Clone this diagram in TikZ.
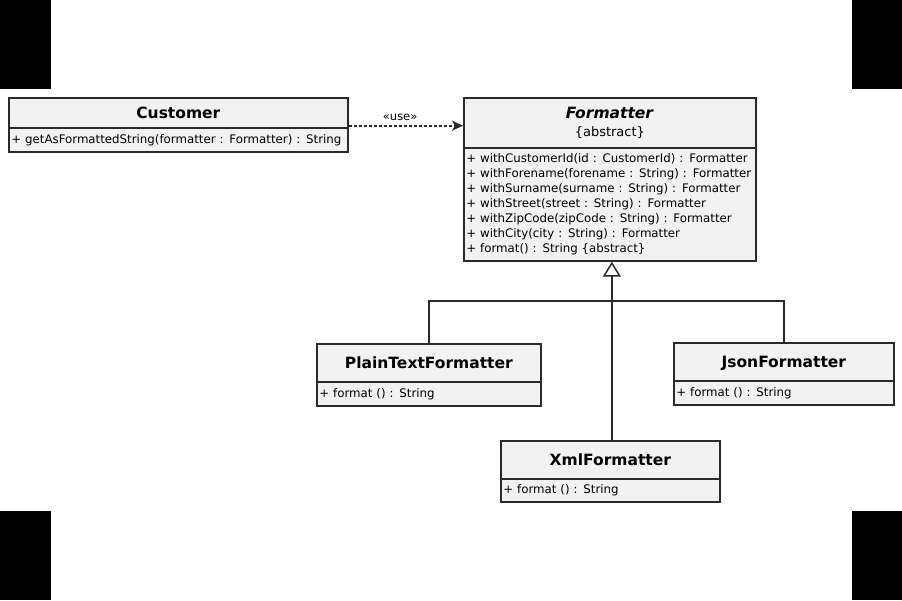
\documentclass[tikz,border=0pt]{standalone}
\usepackage{fontspec}
\setmainfont{DejaVu Sans}
\usetikzlibrary{arrows.meta,calc}
\definecolor{boxfill}{HTML}{F2F2F2}
\definecolor{linec}{HTML}{2A2A2A}
\tikzset{
  hdr/.style={draw=linec,line width=1.7pt,fill=boxfill,anchor=north west,inner sep=0pt,align=center,font=\fontsize{15.5}{18}\selectfont\bfseries},
  ttl/.style={text height=14pt,text depth=2pt},
  bdy/.style={draw=linec,line width=1.7pt,fill=boxfill,anchor=north west,inner sep=2.5pt,align=left,font=\fontsize{11.8}{15}\selectfont},
  conn/.style={draw=linec,line width=1.8pt},
}
\begin{document}
\begin{tikzpicture}[x=1pt,y=-1pt]
\useasboundingbox (0,0) rectangle (902,600);
\fill[black] (0,0) rectangle (51,89);
\fill[black] (852,0) rectangle (902,89);
\fill[black] (0,511) rectangle (51,600);
\fill[black] (852,511) rectangle (902,600);
% Customer
\node[hdr,ttl,minimum width=339pt,minimum height=30pt] (custH) at (8,97) {Customer};
\node[bdy,minimum width=339pt,minimum height=24pt,text width=334pt] (custB) at (8,127) {+ getAsFormattedString(formatter : Formatter) : String};
% Formatter
\node[hdr,minimum width=292pt,minimum height=50pt,font=\fontsize{15.5}{19}\selectfont] (fmtH) at (463,97) {\textbf{\itshape Formatter}\\[-1pt]{\fontsize{13}{15}\selectfont\{abstract\}}};
\node[bdy,minimum width=292pt,minimum height=113pt,text width=287pt] (fmtB) at (463,147) {+ withCustomerId(id : CustomerId) : Formatter\\
+ withForename(forename : String) : Formatter\\
+ withSurname(surname : String) : Formatter\\
+ withStreet(street : String) : Formatter\\
+ withZipCode(zipCode : String) : Formatter\\
+ withCity(city : String) : Formatter\\
+ format() : String \{abstract\}};
% PlainTextFormatter
\node[hdr,ttl,minimum width=224pt,minimum height=38pt] (plainH) at (316,343) {PlainTextFormatter};
\node[bdy,minimum width=224pt,minimum height=24pt,text width=219pt] (plainB) at (316,381) {+ format () : String};
% JsonFormatter
\node[hdr,ttl,minimum width=220pt,minimum height=38pt] (jsonH) at (673,342) {JsonFormatter};
\node[bdy,minimum width=220pt,minimum height=24pt,text width=215pt] (jsonB) at (673,380) {+ format () : String};
% XmlFormatter
\node[hdr,ttl,minimum width=219pt,minimum height=38pt] (xmlH) at (500,440) {XmlFormatter};
\node[bdy,minimum width=219pt,minimum height=23pt,text width=214pt] (xmlB) at (500,478) {+ format () : String};
% use dependency
\coordinate (useS) at ($(custH.south east)+(0,-3)$);
\draw[conn,line width=1.6pt,dashed,dash pattern=on 3pt off 2pt,-{Stealth[length=11pt,width=10pt,inset=3pt]}] (useS) -- (useS -| fmtH.west)
  node[pos=0.45,above=1pt,font=\fontsize{11.5}{13}\selectfont] {«use»};
% generalization
\coordinate (tri) at ($(fmtB.south)+(2,0)$);
\draw[conn,-{Triangle[open,length=15pt,width=18pt,line width=1.5pt]}] (xmlH.north -| tri) -- (tri);
\coordinate (bar) at (611,301);
\draw[conn] (plainH.north) -- (plainH.north |- bar) -- (jsonH.north |- bar) -- (jsonH.north);
\end{tikzpicture}
\end{document}
